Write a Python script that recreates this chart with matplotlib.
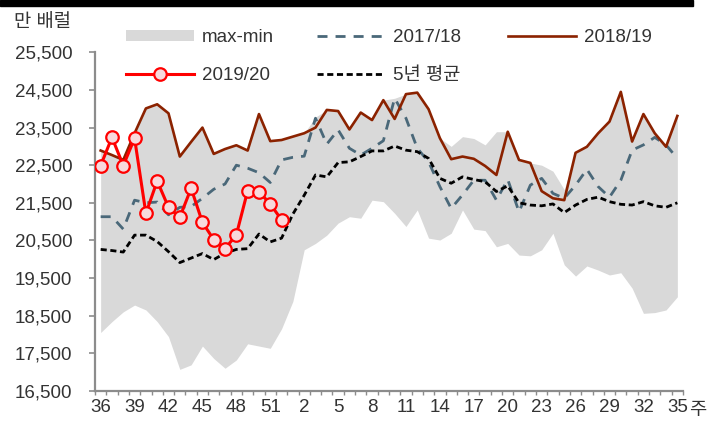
import matplotlib
matplotlib.use("Agg")
import matplotlib.pyplot as plt
from matplotlib.patches import Rectangle, Patch
from matplotlib.lines import Line2D

plt.rcParams['font.family'] = ['Liberation Sans', 'Noto Sans CJK KR']

weeks = list(range(36, 53)) + list(range(1, 36))

band_max = [22890, 22770, 22640, 23350, 24010, 24120, 23880, 22730, 23120, 23500,
            22800, 22930, 23030, 22890, 23860, 23140, 23170,
            23260, 23350, 23780, 23970, 23940, 23450, 23900, 23700, 24230, 24280,
            24390, 24430, 23990, 23220, 23000, 23260, 23210, 23040, 23390, 23390,
            22640, 22560, 22500, 22340, 21850, 22830, 22990, 23350, 23660, 24450,
            23130, 23860, 23350, 23040, 23810]
band_min = [18050, 18340, 18600, 18780, 18650, 18340, 17940, 17070, 17190, 17690,
            17360, 17100, 17320, 17750, 17690, 17630, 18150,
            18880, 20250, 20420, 20640, 20960, 21130, 21090, 21570, 21530, 21220,
            20870, 21310, 20560, 20510, 20690, 21310, 20800, 20760, 20330, 20420,
            20110, 20090, 20250, 20690, 19850, 19550, 19820, 19710, 19580, 19640,
            19230, 18560, 18580, 18650, 19000]
s1718 = [21130, 21130, 20800, 21570, 21500, 21520, 21180, 21380, 21400, 21620,
         21860, 22000, 22500, 22420, 22300, 22040, 22640,
         22710, 22740, 23750, 23060, 23440, 22950, 22770, 22950, 23150, 24280,
         23750, 22950, 22590, 21930, 21350, 21710, 22100, 22100, 21570, 22120,
         21260, 21970, 22150, 21750, 21620, 21970, 22390, 21930, 21650, 22100,
         22900, 23040, 23240, 23040, 22680]
s1819 = [22890, 22770, 22640, 23350, 24010, 24120, 23880, 22730, 23120, 23500,
         22800, 22930, 23030, 22890, 23860, 23140, 23170,
         23260, 23350, 23500, 23970, 23940, 23450, 23900, 23700, 24230, 23730,
         24390, 24430, 23990, 23220, 22660, 22730, 22670, 22480, 22240, 23390,
         22640, 22560, 21810, 21620, 21570, 22830, 22990, 23350, 23660, 24450,
         23130, 23860, 23350, 22990, 23810]
s1920 = [22490, 23240, 22490, 23215, 21220, 22080, 21380, 21115, 21885, 20980,
         20520, 20280, 20650, 21820, 21795, 21470, 21045]
avg5 = [20260, 20230, 20190, 20640, 20640, 20470, 20200, 19910, 20030, 20150,
        19990, 20160, 20260, 20280, 20670, 20460, 20560,
        21200, 21700, 22240, 22190, 22570, 22590, 22730, 22880, 22880, 23010,
        22900, 22860, 22680, 22150, 22020, 22190, 22120, 22060, 21800, 21950,
        21500, 21440, 21420, 21470, 21240, 21440, 21590, 21650, 21530, 21460,
        21440, 21530, 21420, 21380, 21500]

y_ticks = list(range(16500, 25501, 1000))

W, H = 721, 424
fig = plt.figure(figsize=(W / 100, H / 100), dpi=100)
ax = fig.add_axes([95 / W, 1 - 390.8 / H, 588 / W, (390.8 - 52.4) / H])

xs = list(range(len(weeks)))
c_fill = '#d9d9d9'
c_blue = '#4a6879'
c_brown = '#8b2200'
c_red = '#ff0000'
c_mfc = '#f7d9dc'

ax.fill_between(xs, band_min, band_max, color=c_fill, lw=0, zorder=1)
ax.plot(xs, s1718, color=c_blue, lw=2.0, dashes=(3.6, 2.9), zorder=2)
ax.plot(xs, s1819, color=c_brown, lw=1.9, zorder=3)
ax.plot(xs, avg5, color='black', lw=2.0, dashes=(2.2, 1.3), zorder=4)
ax.plot(xs[:len(s1920)], s1920, color=c_red, lw=2.2, marker='o', ms=9,
        mfc=c_mfc, mec=c_red, mew=1.6, zorder=5)

ax.set_xlim(-0.5, len(weeks) - 0.5)
ax.set_ylim(16500, 25500)

ax.set_yticks(y_ticks)
ax.set_yticklabels([f"{v:,}" for v in y_ticks])
major_idx = list(range(0, len(weeks), 3))
ax.set_xticks(major_idx)
ax.set_xticklabels([str(weeks[i]) for i in major_idx])
ax.set_xticks([i - 0.5 for i in range(len(weeks) + 1)], minor=True)

spine_c = '#8c8c8c'
for s in ['top', 'right']:
    ax.spines[s].set_visible(False)
for s in ['left', 'bottom']:
    ax.spines[s].set_color(spine_c)
    ax.spines[s].set_linewidth(1.6)

ax.tick_params(axis='y', which='major', length=4.3, width=1.2, color=spine_c,
               labelsize=13.5, labelcolor='#333333', pad=12)
ax.tick_params(axis='x', which='major', length=0, labelsize=13.5,
               labelcolor='#333333', pad=6)
ax.tick_params(axis='x', which='minor', length=3.2, width=1.0, color=spine_c)
ax.tick_params(axis='y', which='minor', length=0)

fig.text(689 / W, 1 - 411 / H, '주', fontsize=13.5, color='#333333',
         ha='left', va='center')
fig.text(14 / W, 1 - 22 / H, '만 배럴', fontsize=13.5, color='#333333',
         ha='left', va='center')

fig.patches.append(Rectangle((0, 1 - 6 / H), 693 / W, 6 / H, transform=fig.transFigure,
                             color='black', zorder=10))

handles = [
    (Patch(facecolor=c_fill, edgecolor='none'), 'max-min', 126, 37.7),
    (Line2D([], [], color=c_blue, lw=2.0, dashes=(3.6, 2.9)), '2017/18', 316.7, 37.7),
    (Line2D([], [], color=c_brown, lw=1.9), '2018/19', 508, 37.7),
    (Line2D([], [], color=c_red, lw=2.2, marker='o', ms=9, mfc=c_mfc, mec=c_red, mew=1.6),
     '2019/20', 126, 75.7),
    (Line2D([], [], color='black', lw=2.0, dashes=(2.2, 1.3)), '5년 평균', 316.7, 75.7),
]
for h, lab, px, py in handles:
    leg = fig.legend([h], [lab], loc='center left', bbox_to_anchor=(px / W, 1 - py / H),
                     frameon=False, borderpad=0, borderaxespad=0, handlelength=3.6,
                     handleheight=0.5, handletextpad=0.45, fontsize=13.5,
                     labelcolor='#333333', numpoints=1)

fig.savefig('out.png', dpi=100)
